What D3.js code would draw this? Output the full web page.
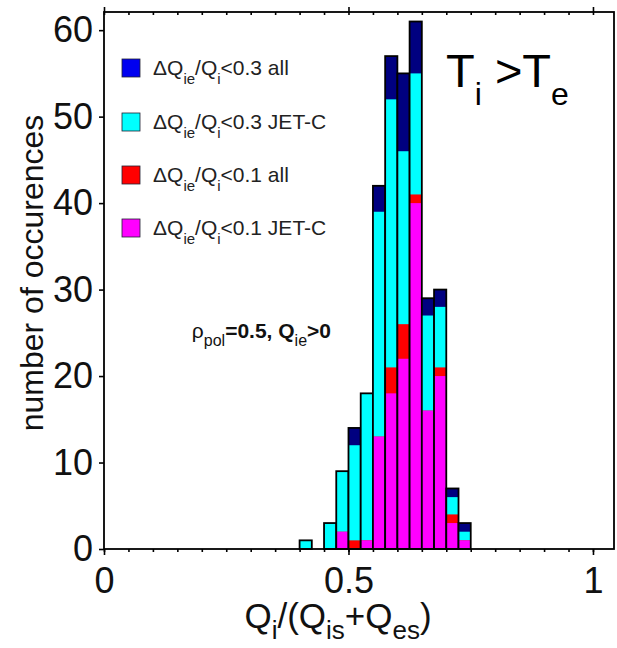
<!DOCTYPE html>
<html>
<head>
<meta charset="utf-8">
<script src="https://cdn.jsdelivr.net/npm/d3@7"></script>
<style>
  body { margin: 0; background: #fff; }
  svg { font-family: "Liberation Sans", Arial, sans-serif; }
</style>
</head>
<body>
<svg id="chart"></svg>
<script>
// bin left edges (bin width 0.025)
const binStarts = [0.400, 0.425, 0.450, 0.475, 0.500, 0.525, 0.550, 0.575, 0.600, 0.625, 0.650, 0.675, 0.700, 0.725];
const binWidth = 0.025;
// counts per bin for each selection
const all03 = [1, 0, 3, 9, 14, 18, 42, 57, 55, 61, 29, 30, 7, 3];
const jet03 = [1, 0, 3, 9, 12, 18, 39, 52, 46, 55, 27, 28, 6, 2];
const all01 = [0, 0, 0, 2, 1, 1, 13, 21, 26, 41, 16, 21, 4, 1];
const jet01 = [0, 0, 0, 2, 0, 1, 13, 18, 22, 40, 16, 20, 3, 1];

const seriesNames = ['<0.3 all', '<0.3 JET-C', '<0.1 all', '<0.1 JET-C'];
const xTicks = [0, 0.5, 1];
const yTicks = [0, 10, 20, 30, 40, 50, 60];

const config = {
    width: 617,
    height: 648,
    left: 104,
    right: 614,
    top: 12,
    bottom: 549
};

const barColors = ['#000080', '#00ffff', '#ff0000', '#ff00ff'];
const legendColors = ['#0000f0', '#00ffff', '#ff0000', '#ff00ff'];

const svg = d3.select('#chart')
    .attr('width', config.width)
    .attr('height', config.height);

const xScale = d3.scaleLinear()
    .domain([0, 1.043])
    .range([config.left, config.right]);

const yScale = d3.scaleLinear()
    .domain([0, 62.1])
    .range([config.bottom, config.top]);

// one row per bin, layers drawn back to front
const bins = binStarts.map((b, i) => ({
    x0: b,
    x1: b + binWidth,
    values: [all03[i], jet03[i], all01[i], jet01[i]]
}));

const barG = svg.append('g').attr('class', 'bars');

bins.forEach(bin => {
    if (bin.values[0] === 0) return;
    const g = barG.append('g');
    bin.values.forEach((v, k) => {
        if (v === 0) return;
        g.append('rect')
            .attr('x', xScale(bin.x0))
            .attr('width', xScale(bin.x1) - xScale(bin.x0))
            .attr('y', yScale(v))
            .attr('height', yScale(0) - yScale(v))
            .attr('fill', barColors[k]);
    });
    // outline of the whole bar
    g.append('rect')
        .attr('x', xScale(bin.x0))
        .attr('width', xScale(bin.x1) - xScale(bin.x0))
        .attr('y', yScale(bin.values[0]))
        .attr('height', yScale(0) - yScale(bin.values[0]))
        .attr('fill', 'none')
        .attr('stroke', '#000')
        .attr('stroke-width', 1.8);
});

// frame
svg.append('rect')
    .attr('x', config.left)
    .attr('y', config.top)
    .attr('width', config.right - config.left)
    .attr('height', config.bottom - config.top)
    .attr('fill', 'none')
    .attr('stroke', '#000')
    .attr('stroke-width', 1.8);

const minorX = d3.range(0, 1.04, 0.05);

// bottom axis: minor + major ticks
const xAxisMinor = d3.axisBottom(xScale).tickValues(minorX).tickSize(3).tickFormat('');
const xAxisMajor = d3.axisBottom(xScale).tickValues(xTicks).tickSize(6).tickPadding(12)
    .tickFormat(d => d === 0.5 ? '0.5' : d3.format('d')(d));
svg.append('g').attr('transform', `translate(0,${config.bottom})`).call(xAxisMinor);
const xAxisG = svg.append('g').attr('transform', `translate(0,${config.bottom})`).call(xAxisMajor);
xAxisG.selectAll('text').attr('font-size', 36).attr('fill', '#111').attr('font-family', null);

// top axis: minor ticks inward, major outward
const topMinor = d3.axisBottom(xScale).tickValues(minorX).tickSize(3).tickFormat('');
const topMajor = d3.axisTop(xScale).tickValues(xTicks).tickSize(5).tickFormat('');
svg.append('g').attr('transform', `translate(0,${config.top})`).call(topMinor);
svg.append('g').attr('transform', `translate(0,${config.top})`).call(topMajor);

// left axis
const yAxis = d3.axisLeft(yScale).tickValues(yTicks).tickSize(5).tickPadding(6);
const yAxisG = svg.append('g').attr('transform', `translate(${config.left},0)`).call(yAxis);
yAxisG.selectAll('text').attr('font-size', 36).attr('fill', '#111').attr('font-family', null);

svg.selectAll('.domain').remove();
svg.selectAll('.tick line').attr('stroke', '#000').attr('stroke-width', 1.6);

// axis titles
svg.append('text')
    .attr('transform', `translate(43,273) rotate(-90)`)
    .attr('text-anchor', 'middle')
    .attr('font-size', 32)
    .attr('fill', '#111')
    .text('number of occurences');

const xTitle = svg.append('text')
    .attr('x', 338)
    .attr('y', 628)
    .attr('text-anchor', 'middle')
    .attr('font-size', 35)
    .attr('fill', '#111');
xTitle.append('tspan').text('Q');
xTitle.append('tspan').attr('font-size', 26).attr('dy', 11).text('i');
xTitle.append('tspan').attr('dy', -11).text('/(Q');
xTitle.append('tspan').attr('font-size', 26).attr('dy', 11).text('is');
xTitle.append('tspan').attr('dy', -11).text('+Q');
xTitle.append('tspan').attr('font-size', 26).attr('dy', 11).text('es');
xTitle.append('tspan').attr('dy', -11).text(')');

// legend
const legend = svg.append('g').attr('transform', 'translate(122,0)');
const legendRows = [68, 122, 175, 228];
seriesNames.forEach((name, i) => {
    const row = legend.append('g').attr('transform', `translate(0,${legendRows[i]})`);
    row.append('rect')
        .attr('x', 0)
        .attr('y', -9)
        .attr('width', 18)
        .attr('height', 18)
        .attr('fill', legendColors[i])
        .attr('stroke', '#223')
        .attr('stroke-width', 0.8);
    const t = row.append('text')
        .attr('x', 31)
        .attr('y', 7)
        .attr('font-size', 21)
        .attr('fill', '#222');
    t.append('tspan').text('\u0394Q');
    t.append('tspan').attr('font-size', 15).attr('dy', 9).text('ie');
    t.append('tspan').attr('dy', -9).text('/Q');
    t.append('tspan').attr('font-size', 15).attr('dy', 9).text('i');
    t.append('tspan').attr('dy', -9).text(name);
});

// annotation
const rho = svg.append('text')
    .attr('x', 331)
    .attr('y', 338)
    .attr('text-anchor', 'end')
    .attr('font-size', 21)
    .attr('fill', '#111');
rho.append('tspan').text('\u03c1');
rho.append('tspan').attr('font-size', 16).attr('dy', 8).text('pol');
rho.append('tspan').attr('dy', -8).attr('font-weight', 'bold').text('=0.5, Q');
rho.append('tspan').attr('font-size', 16).attr('dy', 8).text('ie');
rho.append('tspan').attr('dy', -8).attr('font-weight', 'bold').text('>0');

const temp = svg.append('text')
    .attr('x', 446)
    .attr('y', 87)
    .attr('font-size', 47)
    .attr('fill', '#000');
temp.append('tspan').text('T');
temp.append('tspan').attr('font-size', 32).attr('dy', 18).text('i');
temp.append('tspan').attr('dy', -18).text(' >T');
temp.append('tspan').attr('font-size', 32).attr('dy', 18).text('e');
</script>
</body>
</html>
